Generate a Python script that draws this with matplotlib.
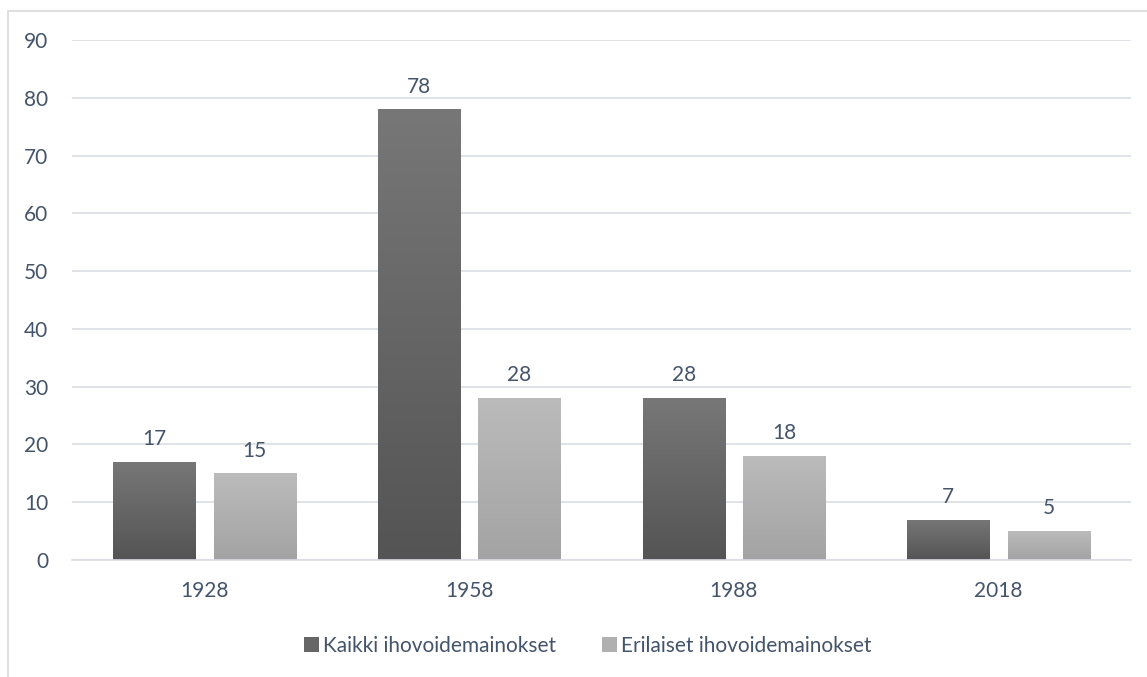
import numpy as np
import matplotlib
matplotlib.use("Agg")
import matplotlib.pyplot as plt
from matplotlib.patches import Rectangle

years = ["1928", "1958", "1988", "2018"]
kaikki = [17, 78, 28, 7]
erilaiset = [15, 28, 18, 5]
series_names = ["Kaikki ihovoidemainokset", "Erilaiset ihovoidemainokset"]

TEXT = "#44546A"
GRID = "#D9DDE3"
FS = 15

plt.rcParams['font.family'] = ['Lato', 'DejaVu Sans']

W, H = 1147, 677
fig = plt.figure(figsize=(W / 100, H / 100), dpi=100)
# chart area frame (cut off at right and bottom like the original)
fig.patches.append(Rectangle((8 / W, -0.2), 1.2, 1.2 - 11 / H, transform=fig.transFigure,
                             fill=False, edgecolor="#D9D9D9", linewidth=1.2))

ax = fig.add_axes([72 / W, 1 - 560 / H, (1131 - 72) / W, (560 - 40) / H])
ax.set_xlim(-0.5, len(years) - 0.5)
ax.set_ylim(0, 90)
ax.set_yticks(range(0, 91, 10))
ax.yaxis.grid(True, color=GRID, linewidth=1.2)
ax.set_axisbelow(True)
for s in ["top", "right", "left"]:
    ax.spines[s].set_visible(False)
ax.spines["bottom"].set_color(GRID)
ax.spines["bottom"].set_linewidth(1.2)
ax.tick_params(length=0, colors=TEXT, labelsize=FS)
ax.tick_params(axis="y", pad=17)
ax.tick_params(axis="x", pad=15)
ax.set_xticks(range(len(years)))
ax.set_xticklabels(years)

width = 0.31
offset = 0.19


def grad_bars(xs, vals, top, bottom, label):
    bars = ax.bar(xs, vals, width, color="none", label=label)
    grad = np.linspace(0, 1, 256).reshape(-1, 1)
    c_top = np.array(matplotlib.colors.to_rgb(top))
    c_bot = np.array(matplotlib.colors.to_rgb(bottom))
    img = c_top[None, None, :] * (1 - grad[:, :, None]) + c_bot[None, None, :] * grad[:, :, None]
    for b in bars:
        x0, y0 = b.get_x(), b.get_y()
        w, h = b.get_width(), b.get_height()
        im = ax.imshow(img, extent=(x0, x0 + w, y0, y0 + h), aspect="auto",
                       zorder=2, interpolation="bilinear", origin="upper")
        im.set_clip_path(b)
        ax.text(x0 + w / 2, y0 + h + 2.9, f"{int(h)}", ha="center", va="baseline",
                color=TEXT, fontsize=FS)
    return bars


x = np.arange(len(years))
grad_bars(x - offset, kaikki, "#777777", "#545454", series_names[0])
grad_bars(x + offset, erilaiset, "#BBBBBB", "#A3A3A3", series_names[1])
ax.set_xlim(-0.5, len(years) - 0.5)
ax.set_ylim(0, 90)

handles = [Rectangle((0, 0), 1, 1, facecolor="#666666"),
           Rectangle((0, 0), 1, 1, facecolor="#B0B0B0")]
fig.legend(handles, series_names, loc="center", bbox_to_anchor=(588 / W, 1 - 646 / H),
           ncol=2, frameon=False, fontsize=FS, labelcolor=TEXT,
           handlelength=0.72, handleheight=0.72, handletextpad=0.2, columnspacing=2.2)

fig.savefig("out.png", dpi=100)
